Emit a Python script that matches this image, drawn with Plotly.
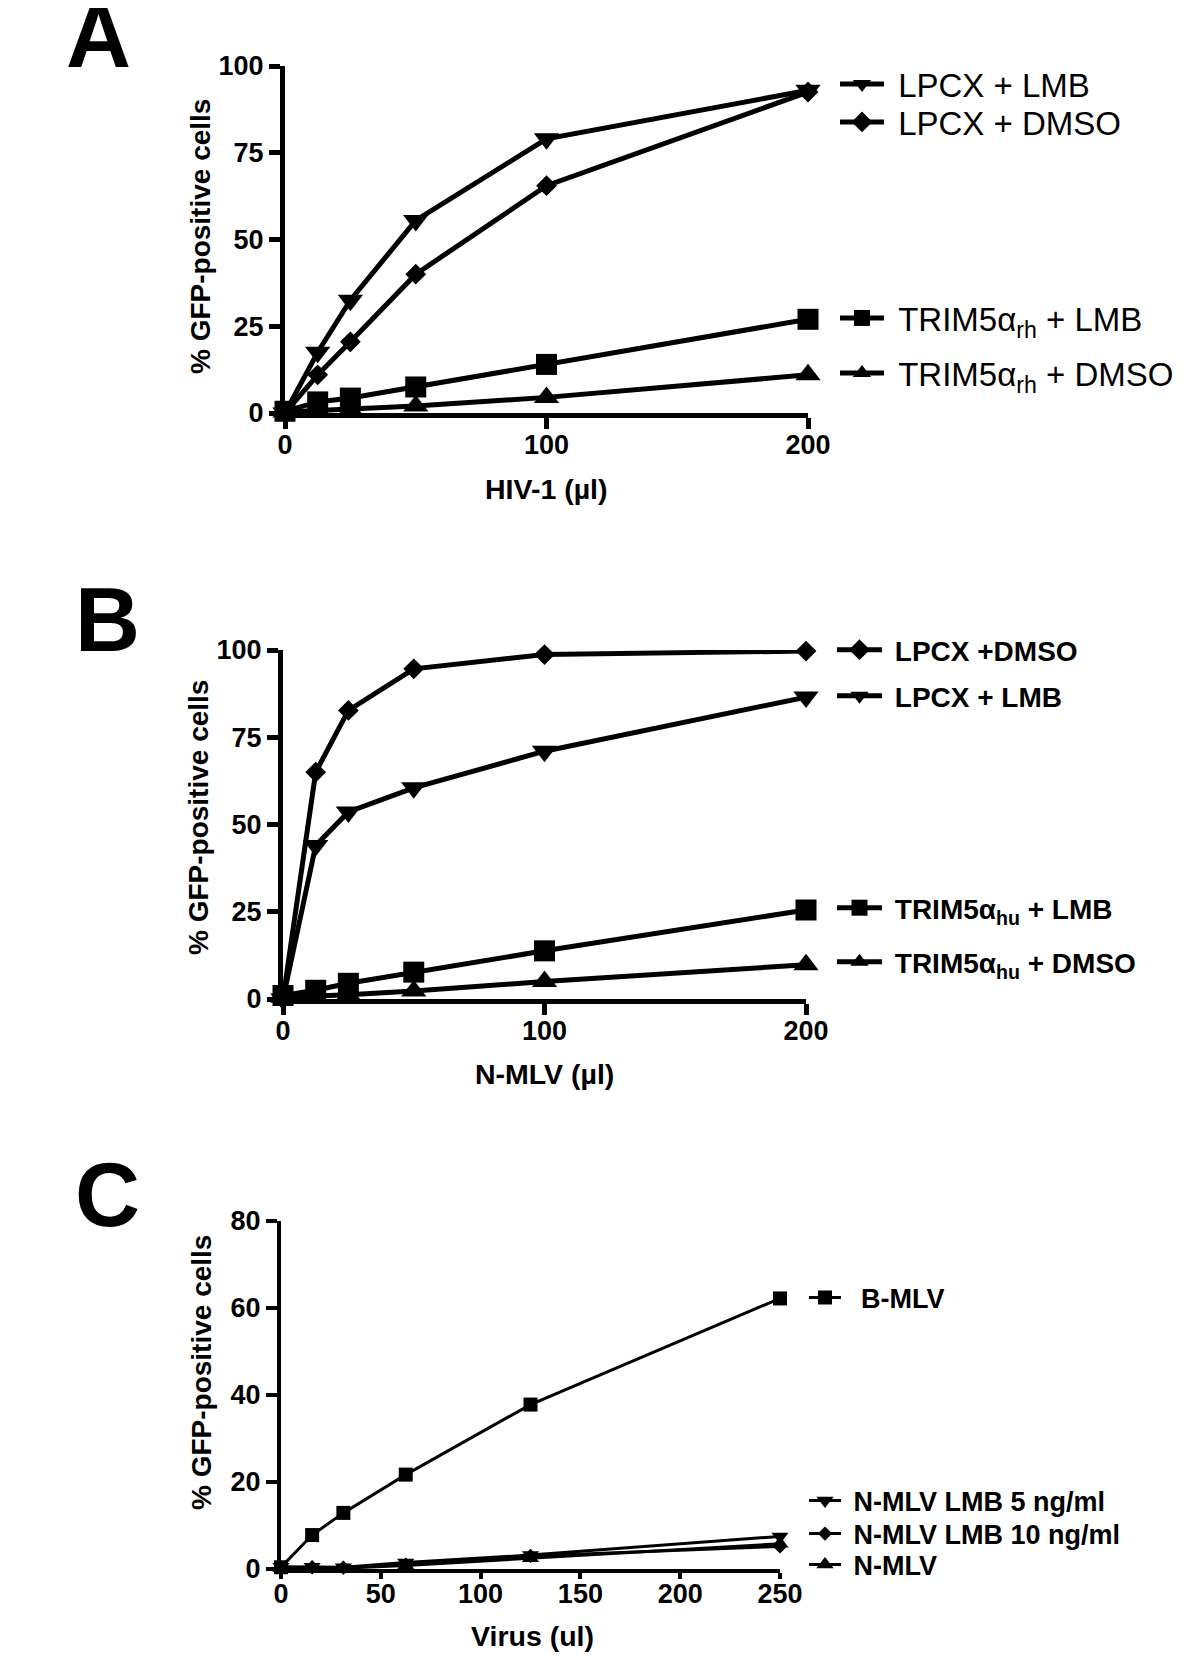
import plotly.graph_objects as go

# page body has an 8px margin, so the figure is drawn 8px smaller and offset
OFF = 8
W, H = 1200 - OFF, 1678 - OFF
FONT = "Arial, Liberation Sans, sans-serif"
NB = "\u00a0"

# ---------------- data ----------------
# Panel A (HIV-1)
a_x = [0, 12.5, 25, 50, 100, 200]
a_lpcx_lmb = [0, 17.5, 32.5, 55.5, 79, 93]
a_lpcx_dmso = [0, 11, 20.5, 40, 65.5, 92.5]
a_trim_lmb = [0.5, 3.2, 4.3, 7.5, 14, 27]
a_trim_dmso = [0.3, 0.8, 1.0, 2.0, 4.5, 11]

# Panel B (N-MLV)
b_x = [0, 12.5, 25, 50, 100, 200]
b_lpcx_dmso = [0, 65, 82.7, 94.6, 98.7, 99.7]
b_lpcx_lmb = [0, 44, 53.6, 60.5, 71, 86.5]
b_trim_lmb = [1, 2.5, 4.5, 7.7, 13.8, 25.5]
b_trim_dmso = [0.5, 0.7, 1.2, 2.3, 5, 9.8]

# Panel C (Virus)
c_x = [0, 15.6, 31.25, 62.5, 125, 250]
c_bmlv = [0.4, 7.8, 12.9, 21.7, 37.8, 62.2]
c_lmb5 = [0.5, 0.5, 0.4, 1.5, 3.2, 7.5]
c_lmb10 = [0.3, 0.4, 0.3, 1.0, 3.0, 5.2]
c_nmlv = [0.2, 0.2, 0.2, 0.8, 2.5, 5.8]

a_ticks_x = [0, 100, 200]
a_ticks_y = [0, 25, 50, 75, 100]
c_ticks_x = [0, 50, 100, 150, 200, 250]
c_ticks_y = [0, 20, 40, 60, 80]

# ---------------- helpers ----------------
def px(x):
    return (x - OFF) / W

def py(y):
    return 1 - (y - OFF) / H

fig = go.Figure()

series = [
    # (x, y, name, symbol, size, lw, axis, legend)
    (a_x, a_lpcx_lmb, "LPCX + LMB", "triangle-down", 22, 5, "1", "legend"),
    (a_x, a_lpcx_dmso, "LPCX + DMSO", "diamond", 16, 5, "1", "legend2"),
    (a_x, a_trim_lmb, "TRIM5α<sub>rh</sub> + LMB", "square", 21, 5, "1", "legend3"),
    (a_x, a_trim_dmso, "TRIM5α<sub>rh</sub> + DMSO", "triangle-up", 22, 5, "1", "legend4"),
    (b_x, b_lpcx_dmso, "LPCX +DMSO", "diamond", 16, 5, "2", "legend5"),
    (b_x, b_lpcx_lmb, "LPCX + LMB", "triangle-down", 22, 5, "2", "legend6"),
    (b_x, b_trim_lmb, "TRIM5α<sub>hu</sub> + LMB", "square", 21, 5, "2", "legend7"),
    (b_x, b_trim_dmso, "TRIM5α<sub>hu</sub> + DMSO", "triangle-up", 22, 5, "2", "legend8"),
    (c_x, c_bmlv, NB + "B-MLV", "square", 14, 3, "3", "legend9"),
    (c_x, c_lmb5, "N-MLV LMB 5 ng/ml", "triangle-down", 15, 3, "3", "legend10"),
    (c_x, c_lmb10, "N-MLV LMB 10 ng/ml", "diamond", 11, 3, "3", "legend11"),
    (c_x, c_nmlv, "N-MLV", "triangle-up", 15, 3, "3", "legend12"),
]

for x, y, name, sym, size, lw, ax, leg in series:
    fig.add_trace(go.Scatter(
        x=x, y=y, name=NB + name, mode="lines+markers",
        line=dict(color="black", width=lw),
        marker=dict(symbol=sym, size=size, color="black"),
        xaxis="x" if ax == "1" else "x" + ax,
        yaxis="y" if ax == "1" else "y" + ax,
        cliponaxis=False, legend=leg, showlegend=True,
    ))

# ---------------- axes ----------------
def axis(domain, rng, ticks, anchor, lw, tl=11, standoff=0):
    return dict(
        domain=domain, range=rng, tickvals=ticks, anchor=anchor,
        showline=True, linecolor="black", linewidth=lw,
        ticks="outside", ticklen=tl, tickwidth=lw, tickcolor="black",
        ticklabelstandoff=standoff,
        showgrid=False, zeroline=False, fixedrange=True, automargin=False,
        tickfont=dict(family=FONT, size=27, color="black", weight="bold"),
    )

panels = {
    "1": dict(xd=[px(285), px(808)], yd=[py(413), py(66)], xr=[0, 200], yr=[0, 100],
              xt=a_ticks_x, yt=a_ticks_y, lw=5, xtl=11, xso=-7),
    "2": dict(xd=[px(283), px(806)], yd=[py(999), py(650)], xr=[0, 200], yr=[0, 100],
              xt=a_ticks_x, yt=a_ticks_y, lw=5, xtl=11, xso=-7),
    "3": dict(xd=[px(281), px(780)], yd=[py(1569), py(1221)], xr=[0, 250], yr=[0, 80],
              xt=c_ticks_x, yt=c_ticks_y, lw=4, xtl=6, xso=-8),
}

layout = dict(
    width=W, height=H, autosize=False,
    margin=dict(l=0, r=0, t=0, b=0, autoexpand=False),
    paper_bgcolor="white", plot_bgcolor="white",
    font=dict(family=FONT, color="black"),
)
for k, p in panels.items():
    xa = "xaxis" if k == "1" else "xaxis" + k
    ya = "yaxis" if k == "1" else "yaxis" + k
    xid = "x" if k == "1" else "x" + k
    yid = "y" if k == "1" else "y" + k
    layout[xa] = axis(p["xd"], p["xr"], p["xt"], yid, p["lw"], p["xtl"], p["xso"])
    layout[ya] = axis(p["yd"], p["yr"], p["yt"], xid, p["lw"])

# ---------------- legends ----------------
def legend(xp, yp, size, bold, iw):
    return dict(
        x=px(xp), y=py(yp), xanchor="left", yanchor="middle",
        bgcolor="rgba(0,0,0,0)", borderwidth=0, itemwidth=iw,
        font=dict(family=FONT, size=size, color="black",
                  weight="bold" if bold else "normal"),
        itemclick=False, itemdoubleclick=False,
    )

leg_specs = {
    "legend": (835, 84, 33, False, 44),
    "legend2": (835, 122, 33, False, 44),
    "legend3": (835, 318, 33, False, 44),
    "legend4": (835, 373, 33, False, 44),
    "legend5": (832, 650, 28, True, 45),
    "legend6": (832, 696, 28, True, 45),
    "legend7": (832, 908, 28, True, 45),
    "legend8": (832, 962, 28, True, 45),
    "legend9": (804, 1298, 27, True, 32),
    "legend10": (804, 1501, 27, True, 32),
    "legend11": (804, 1534, 27, True, 32),
    "legend12": (804, 1565, 27, True, 32),
}
for k, (xp, yp, s, b, iw) in leg_specs.items():
    layout[k] = legend(xp, yp, s, b, iw)

fig.update_layout(**layout)

# ---------------- titles / panel letters ----------------
def ann(text, xp, yp, size, angle=0, bold=True):
    fig.add_annotation(
        text=text, x=px(xp), y=py(yp), xref="paper", yref="paper",
        xanchor="center", yanchor="middle", showarrow=False, textangle=angle,
        font=dict(family=FONT, size=size, color="black",
                  weight="bold" if bold else "normal"),
    )

ann("A", 98, 36, 90)
ann("B", 107, 620, 90)
ann("C", 107, 1195, 90)

ann("% GFP-positive cells", 201, 237, 28, angle=-90)
ann("% GFP-positive cells", 199, 818, 28, angle=-90)
ann("% GFP-positive cells", 201, 1373, 28, angle=-90)

ann("HIV-1 (µl)", 546, 489, 28.5)
ann("N-MLV (µl)", 544, 1074, 28.5)
ann("Virus (ul)", 532, 1636, 28.5)

fig.write_html("out.html")
